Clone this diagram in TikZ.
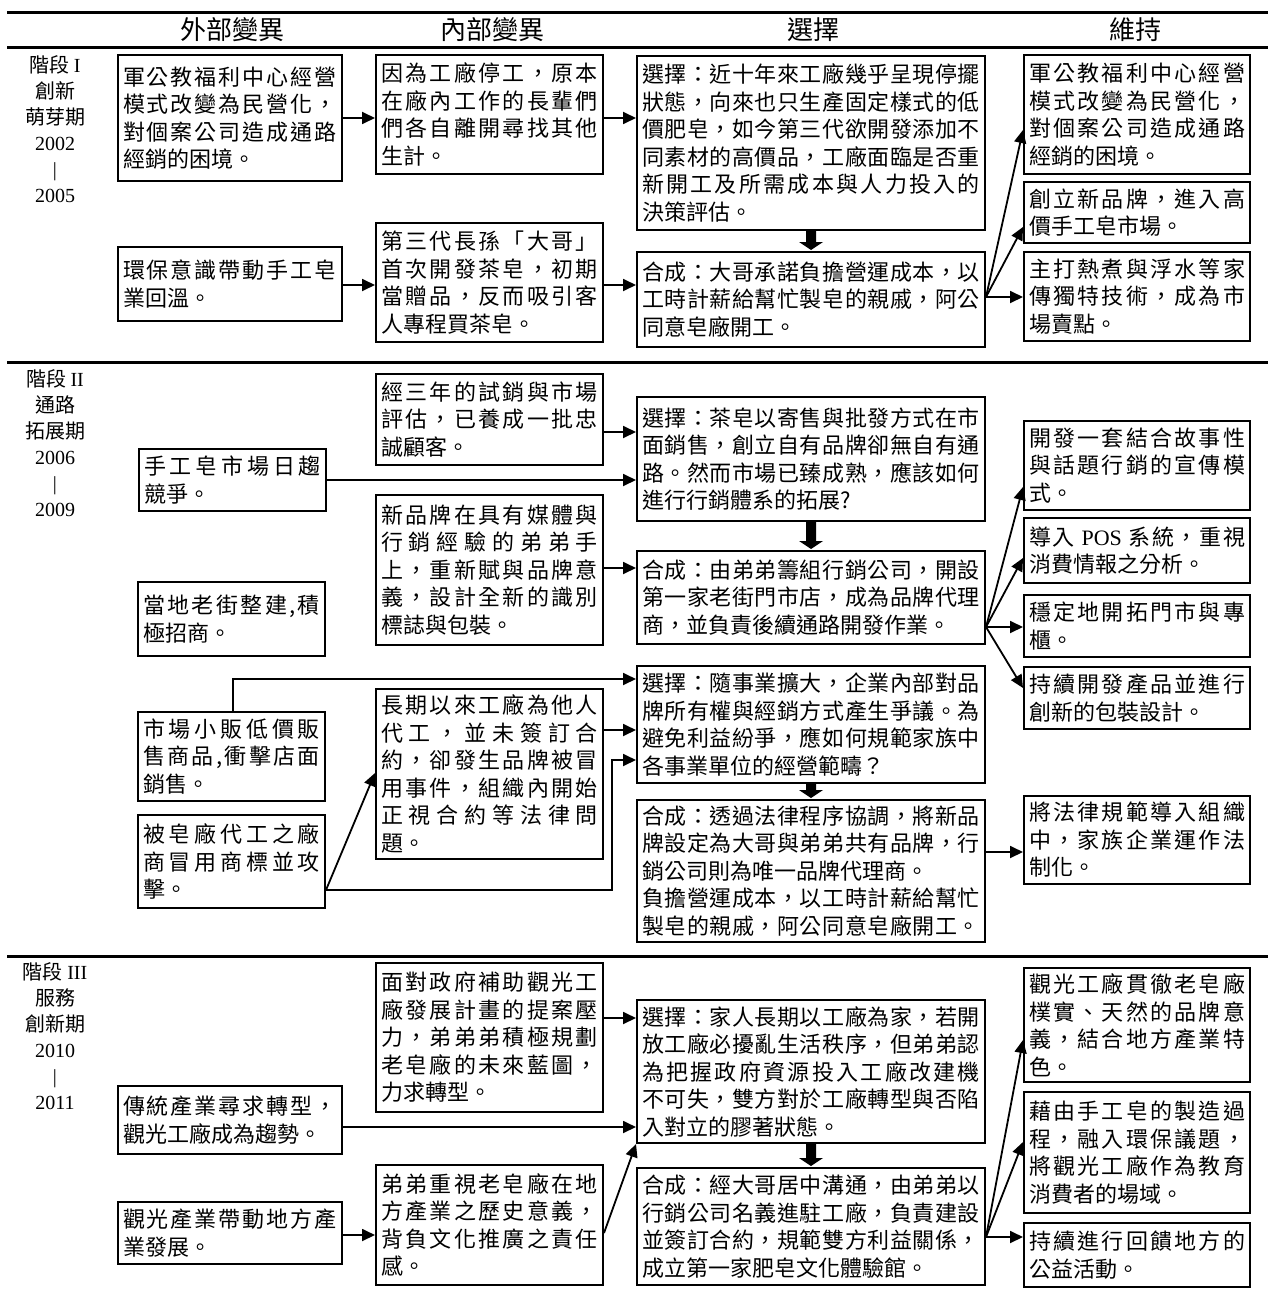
\documentclass[tikz,border=0pt]{standalone}
\usepackage{fontspec}
\setmainfont{Noto Sans CJK TC}
\newfontfamily\lat{Liberation Serif}
\usetikzlibrary{arrows.meta,calc}
% justified line: characters spread over the line width
\def\Jaux#1#2\Jend{#1\ifx\relax#2\relax\else\hfil\Jaux#2\Jend\fi}
\newcommand\J[1]{\hbox to \tw pt{\Jaux#1\Jend}}
\newcommand\E[1]{\hbox to \tw pt{#1\hfil}}
\tikzset{
  bx/.style={draw, line width=2pt, inner xsep=4pt, inner ysep=2pt, font=\fontsize{22}{27.5}\selectfont},
  con/.style={line width=1.8pt, -{Triangle[length=13pt,width=12pt]}},
  stg/.style={align=center, font=\fontsize{20}{26}\selectfont},
  hd/.style={font=\fontsize{26}{30}\selectfont},
  rule/.style={line width=3pt}
}
\newcommand\B[6]{%
  \pgfmathsetmacro\bw{#4-#2}\pgfmathsetmacro\bh{#5-#3}\pgfmathsetmacro\tw{#4-#2-10}%
  \node[bx, minimum width=\bw pt, minimum height=\bh pt] (#1) at ({(#2+#4)/2},{(#3+#5)/2}) {\vbox{#6}};}
\newcommand\blk[2]{%
  \fill ($(#1.south)+(-5,0)$) -- ($(#1.south)+(5,0)$) -- ($(#2.north)+(5,-9)$) -- ($(#2.north)+(12,-9)$) -- ($(#2.north)+(0,-1)$) -- ($(#2.north)+(-12,-9)$) -- ($(#2.north)+(-5,-9)$) -- cycle;}
\begin{document}
\begin{tikzpicture}[x=1pt,y=-1pt]
\useasboundingbox (0,0) rectangle (1268,1292);
\fill[white] (0,0) rectangle (1268,1292);
% rules
\draw[rule] (7,13) -- (1268,13);
\draw[rule] (7,48) -- (1268,48);
\draw[rule] (7,362) -- (1268,362);
\draw[rule] (7,956) -- (1268,956);
% headers
\node[hd] (h1) at (232,30) {外部變異};
\node[hd] (h2) at (492,30) {內部變異};
\node[hd] (h3) at (813,30) {選擇};
\node[hd] (h4) at (1135,30) {維持};
% stage labels
\node[stg] (l1) at (55,129) {階段 {\lat I}\\創新\\萌芽期\\{\lat 2002}\\{\lat |}\\{\lat 2005}};
\node[stg] (l2) at (55,443) {階段 {\lat II}\\通路\\拓展期\\{\lat 2006}\\{\lat |}\\{\lat 2009}};
\node[stg] (l3) at (55,1036) {階段 {\lat III}\\服務\\創新期\\{\lat 2010}\\{\lat |}\\{\lat 2011}};

%%%%% Stage I
\B{s1a1}{118}{55}{342}{181}{\J{軍公教福利中心經營}\J{模式改變為民營化，}\J{對個案公司造成通路}\E{經銷的困境。}}
\B{s1a2}{118}{247}{342}{321}{\J{環保意識帶動手工皂}\E{業回溫。}}
\B{s1b1}{376}{55}{603}{174}{\J{因為工廠停工，原本}\J{在廠內工作的長輩們}\J{們各自離開尋找其他}\E{生計。}}
\B{s1b2}{376}{223}{603}{342}{\J{第三代長孫「大哥」}\J{首次開發茶皂，初期}\J{當贈品，反而吸引客}\E{人專程買茶皂。}}
\B{s1c1}{637}{56}{985}{230}{\J{選擇：近十年來工廠幾乎呈現停擺}\J{狀態，向來也只生產固定樣式的低}\J{價肥皂，如今第三代欲開發添加不}\J{同素材的高價品，工廠面臨是否重}\J{新開工及所需成本與人力投入的}\E{決策評估。}}
\B{s1c2}{637}{252}{985}{347}{\J{合成：大哥承諾負擔營運成本，以}\J{工時計薪給幫忙製皂的親戚，阿公}\E{同意皂廠開工。}}
\B{s1d1}{1024}{55}{1250}{174}{\J{軍公教福利中心經營}\J{模式改變為民營化，}\J{對個案公司造成通路}\E{經銷的困境。}}
\B{s1d2}{1024}{182}{1250}{243}{\J{創立新品牌，進入高}\E{價手工皂市場。}}
\B{s1d3}{1024}{252}{1250}{341}{\J{主打熱煮與浮水等家}\J{傳獨特技術，成為市}\E{場賣點。}}
\draw[con] (s1a1.east |- 0,118) -- (s1b1.west |- 0,118);
\draw[con] (s1a2.east |- 0,285) -- (s1b2.west |- 0,285);
\draw[con] (s1b1.east |- 0,118) -- (s1c1.west |- 0,118);
\draw[con] (s1b2.east |- 0,285) -- (s1c2.west |- 0,285);
\blk{s1c1}{s1c2}
\coordinate (o1) at (s1c2.east |- 0,297);
\draw[con] (o1) -- (s1d1.west |- 0,130);
\draw[con] (o1) -- (s1d2.west |- 0,227);
\draw[con] (o1) -- (s1d3.west |- 0,297);

%%%%% Stage II
\B{s2a1}{139}{449}{326}{511}{\J{手工皂市場日趨}\E{競爭。}}
\B{s2a2}{138}{582}{325}{656}{\J{當地老街整建,積}\E{極招商。}}
\B{s2b1}{376}{374}{603}{465}{\J{經三年的試銷與市場}\J{評估，已養成一批忠}\E{誠顧客。}}
\B{s2b2}{376}{495}{603}{645}{\J{新品牌在具有媒體與}\J{行銷經驗的弟弟手}\J{上，重新賦與品牌意}\J{義，設計全新的識別}\E{標誌與包裝。}}
\B{s2c1}{637}{397}{985}{521}{\J{選擇：茶皂以寄售與批發方式在市}\J{面銷售，創立自有品牌卻無自有通}\J{路。然而市場已臻成熟，應該如何}\E{進行行銷體系的拓展?}}
\B{s2c2}{637}{551}{985}{644}{\J{合成：由弟弟籌組行銷公司，開設}\J{第一家老街門市店，成為品牌代理}\E{商，並負責後續通路開發作業。}}
\B{s2d1}{1024}{421}{1250}{510}{\J{開發一套結合故事性}\J{與話題行銷的宣傳模}\E{式。}}
\B{s2d2}{1024}{518}{1250}{583}{\J{導入{{\lat\ POS\ }}系統，重視}\E{消費情報之分析。}}
\B{s2d3}{1024}{595}{1250}{657}{\J{穩定地開拓門市與專}\E{櫃。}}
\B{s2d4}{1024}{667}{1250}{729}{\J{持續開發產品並進行}\E{創新的包裝設計。}}
\B{s2a3}{138}{712}{325}{801}{\J{市場小販低價販}\J{售商品,衝擊店面}\E{銷售。}}
\B{s2a4}{138}{815}{325}{908}{\J{被皂廠代工之廠}\J{商冒用商標並攻}\E{擊。}}
\B{s2b3}{376}{689}{603}{859}{\J{長期以來工廠為他人}\J{代工，並未簽訂合}\J{約，卻發生品牌被冒}\J{用事件，組織內開始}\J{正視合約等法律問}\E{題。}}
\B{s2c3}{637}{666}{985}{783}{\J{選擇：隨事業擴大，企業內部對品}\J{牌所有權與經銷方式產生爭議。為}\J{避免利益紛爭，應如何規範家族中}\E{各事業單位的經營範疇？}}
\B{s2c4}{637}{800}{985}{942}{\J{合成：透過法律程序協調，將新品}\J{牌設定為大哥與弟弟共有品牌，行}\E{銷公司則為唯一品牌代理商。}\J{負擔營運成本，以工時計薪給幫忙}\J{製皂的親戚，阿公同意皂廠開工。}}
\B{s2d5}{1024}{796}{1250}{884}{\J{將法律規範導入組織}\J{中，家族企業運作法}\E{制化。}}
\draw[con] (s2b1.east |- 0,432) -- (s2c1.west |- 0,432);
\draw[con] (s2a1.east |- 0,480) -- (s2c1.west |- 0,480);
\draw[con] (s2b2.east |- 0,568) -- (s2c2.west |- 0,568);
\blk{s2c1}{s2c2}
\coordinate (o2) at (s2c2.east |- 0,627);
\draw[con] (o2) -- (s2d1.west |- 0,487);
\draw[con] (o2) -- (s2d2.west |- 0,558);
\draw[con] (o2) -- (s2d3.west |- 0,627);
\draw[con] (o2) -- (s2d4.west |- 0,688);
\draw[con] (s2a3.north -| 233,0) |- (s2c3.west |- 0,679);
\draw[con] (s2b3.east |- 0,730) -- (s2c3.west |- 0,730);
\coordinate (o4) at (s2a4.east |- 0,890);
\draw[con] (o4) -| (612,760) -- (s2c3.west |- 0,760);
\draw[con] (o4) -- (s2b3.west |- 0,773);
\blk{s2c3}{s2c4}
\draw[con] (s2c4.east |- 0,852) -- (s2d5.west |- 0,852);

%%%%% Stage III
\B{s3a1}{118}{1086}{342}{1154}{\J{傳統產業尋求轉型，}\E{觀光工廠成為趨勢。}}
\B{s3a2}{118}{1202}{342}{1264}{\J{觀光產業帶動地方產}\E{業發展。}}
\B{s3b1}{376}{963}{603}{1112}{\J{面對政府補助觀光工}\J{廠發展計畫的提案壓}\J{力，弟弟弟積極規劃}\J{老皂廠的未來藍圖，}\E{力求轉型。}}
\B{s3b2}{376}{1165}{603}{1285}{\J{弟弟重視老皂廠在地}\J{方產業之歷史意義，}\J{背負文化推廣之責任}\E{感。}}
\B{s3c1}{637}{1000}{985}{1143}{\J{選擇：家人長期以工廠為家，若開}\J{放工廠必擾亂生活秩序，但弟弟認}\J{為把握政府資源投入工廠改建機}\J{不可失，雙方對於工廠轉型與否陷}\E{入對立的膠著狀態。}}
\B{s3c2}{637}{1168}{985}{1285}{\J{合成：經大哥居中溝通，由弟弟以}\J{行銷公司名義進駐工廠，負責建設}\J{並簽訂合約，規範雙方利益關係，}\E{成立第一家肥皂文化體驗館。}}
\B{s3d1}{1024}{968}{1250}{1082}{\J{觀光工廠貫徹老皂廠}\J{樸實、天然的品牌意}\J{義，結合地方產業特}\E{色。}}
\B{s3d2}{1024}{1092}{1250}{1213}{\J{藉由手工皂的製造過}\J{程，融入環保議題，}\J{將觀光工廠作為教育}\E{消費者的場域。}}
\B{s3d3}{1024}{1223}{1250}{1287}{\J{持續進行回饋地方的}\E{公益活動。}}
\draw[con] (s3b1.east |- 0,1018) -- (s3c1.west |- 0,1018);
\draw[con] (s3a1.east |- 0,1127) -- (s3c1.west |- 0,1127);
\draw[con] (s3a2.east |- 0,1235) -- (s3b2.west |- 0,1235);
\draw[con] (s3b2.east |- 0,1233) -- (s3c1.south west);
\blk{s3c1}{s3c2}
\coordinate (o3) at (s3c2.east |- 0,1237);
\draw[con] (o3) -- (s3d1.west |- 0,1040);
\draw[con] (o3) -- (s3d2.west |- 0,1142);
\draw[con] (o3) -- (s3d3.west |- 0,1237);
\end{tikzpicture}
\end{document}
